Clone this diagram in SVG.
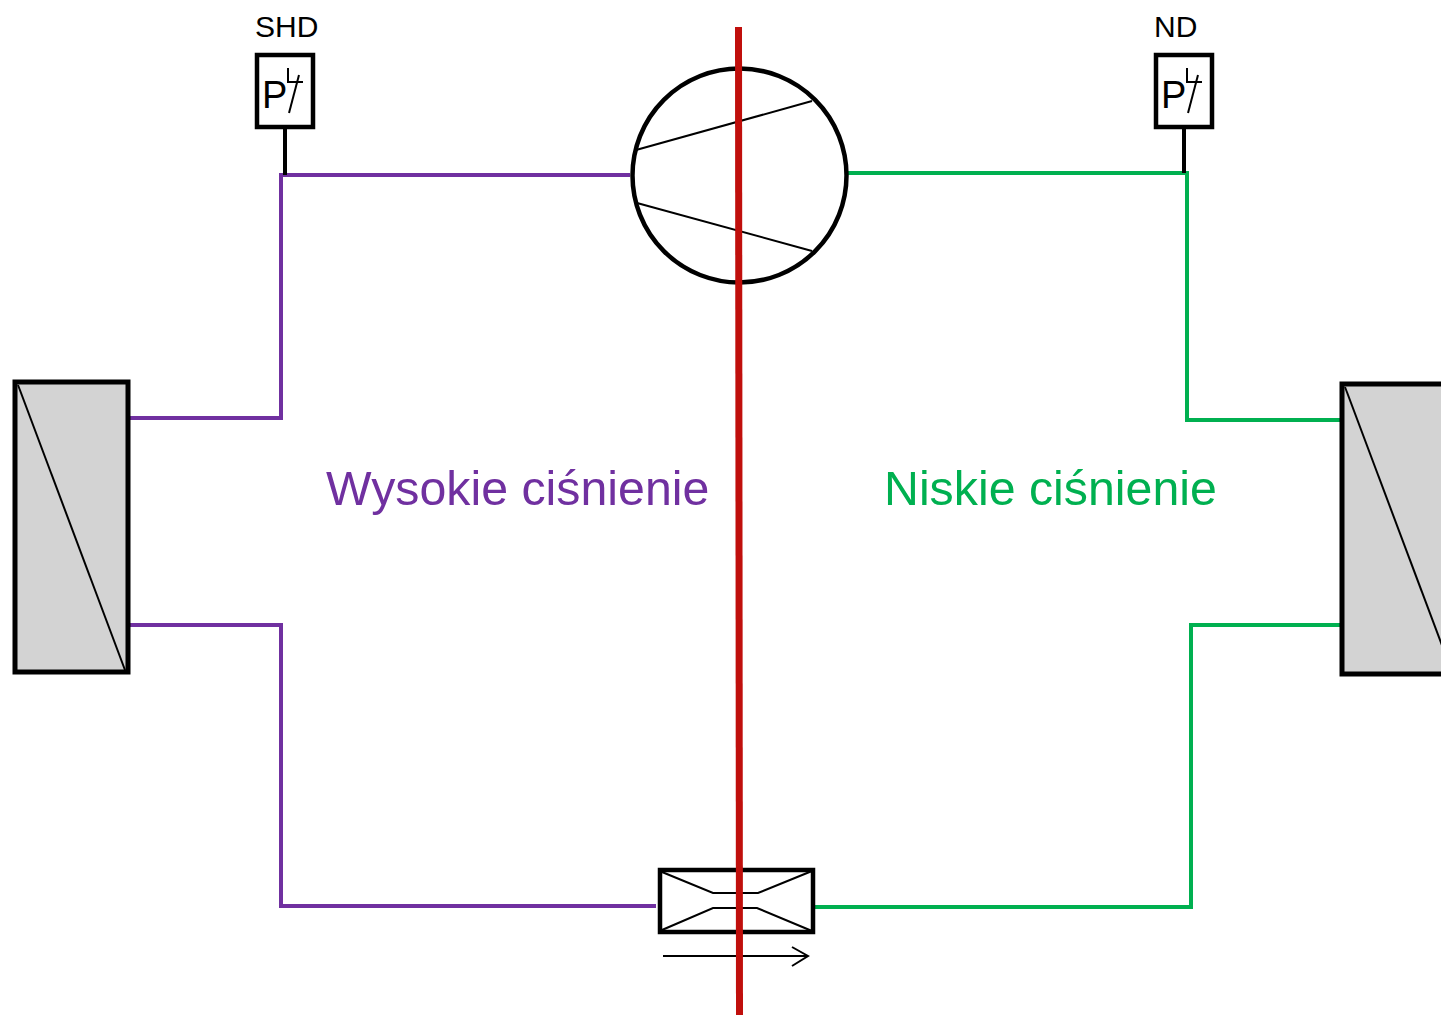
<svg xmlns="http://www.w3.org/2000/svg" width="1441" height="1015" viewBox="0 0 1441 1015">
<style>
.hp{fill:none;stroke:#7030A0;stroke-width:4}
.lp{fill:none;stroke:#00B050;stroke-width:4}
.blk{fill:none;stroke:#000;stroke-width:4}
.thin{fill:none;stroke:#000;stroke-width:2}
.hx{fill:#D3D3D3;stroke:#000;stroke-width:5}
.lbl{font-family:"Liberation Sans",Arial,sans-serif;fill:#000}
.big{font-family:"Liberation Sans",Arial,sans-serif;font-size:48.3px}
</style>
<rect width="1441" height="1015" fill="#fff"/>
<g id="connectors">
<polyline class="hp" points="630,175 281,175 281,418 128,418"/>
<polyline class="hp" points="128,625 281,625 281,906 656,906"/>
<polyline class="lp" points="848,173 1187,173 1187,420 1342,420"/>
<polyline class="lp" points="812,907 1191,907 1191,625 1342,625"/>
<line class="blk" x1="285" y1="128" x2="285" y2="175"/>
<line class="blk" x1="1184" y1="128" x2="1184" y2="173"/>
</g>
<g id="condenser">
<rect class="hx" x="15" y="382" width="113" height="290"/>
<line class="thin" x1="18" y1="385" x2="125" y2="670"/>
</g>
<g id="evaporator">
<rect class="hx" x="1342" y="384" width="113" height="290"/>
<line class="thin" x1="1345" y1="387" x2="1452" y2="672"/>
</g>
<g id="compressor">
<circle cx="739.5" cy="175.5" r="107" fill="#fff" stroke="#000" stroke-width="4.5"/>
<line class="thin" x1="636" y1="150" x2="812" y2="101"/>
<line class="thin" x1="637" y1="203" x2="812" y2="251"/>
</g>
<g id="valve">
<rect x="660" y="870" width="153" height="62" fill="#fff" stroke="#000" stroke-width="4.5"/>
<polyline class="thin" points="662,872 713,893 758,893 812,871"/>
<polyline class="thin" points="662,930 713,908 757,908 812,931"/>
<line class="thin" x1="663" y1="956" x2="808" y2="956"/>
<polyline class="thin" points="792,947 808,956 792,966"/>
</g>
<g id="sensor-shd">
<text class="lbl" x="255" y="37" font-size="30">SHD</text>
<rect x="257" y="55" width="56" height="72" fill="#fff" stroke="#000" stroke-width="4.5"/>
<text class="lbl" x="262" y="108" font-size="38">P</text>
<polyline class="thin" points="288,68 288,82 303,82"/>
<line class="thin" x1="299" y1="75" x2="289" y2="113"/>
</g>
<g id="sensor-nd">
<text class="lbl" x="1154" y="37" font-size="30">ND</text>
<rect x="1156" y="55" width="56" height="72" fill="#fff" stroke="#000" stroke-width="4.5"/>
<text class="lbl" x="1161" y="108" font-size="38">P</text>
<polyline class="thin" points="1187,68 1187,82 1202,82"/>
<line class="thin" x1="1198" y1="75" x2="1188" y2="113"/>
</g>
<g id="divider">
<line x1="738.5" y1="27" x2="739.5" y2="1015" stroke="#C00F0C" stroke-width="7"/>
</g>
<g id="labels">
<text class="big" x="326" y="505" fill="#7030A0">Wysokie ciśnienie</text>
<text class="big" x="884" y="505" fill="#00B050">Niskie ciśnienie</text>
</g>
</svg>
